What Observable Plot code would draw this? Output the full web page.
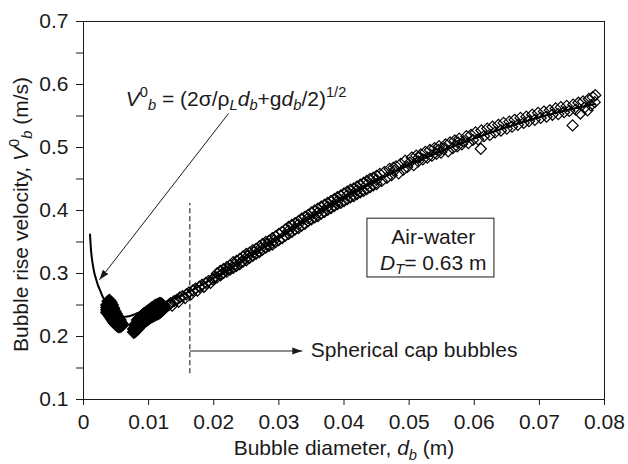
<!DOCTYPE html>
<html><head><meta charset="utf-8">
<script src="https://cdn.jsdelivr.net/npm/d3@7"></script>
<script src="https://cdn.jsdelivr.net/npm/@observablehq/plot@0.6"></script>
<style>html,body{margin:0;padding:0;background:#fff}</style>
</head><body><div id="chart"></div>
<script>
// ---- axis ticks ----
const xTicks = [0, 0.01, 0.02, 0.03, 0.04, 0.05, 0.06, 0.07, 0.08];
const xTickLabels = ["0", "0.01", "0.02", "0.03", "0.04", "0.05", "0.06", "0.07", "0.08"];
const yTicks = [0.1, 0.2, 0.3, 0.4, 0.5, 0.6, 0.7];
const yTickLabels = ["0.1", "0.2", "0.3", "0.4", "0.5", "0.6", "0.7"];
const yMinorTicks = [0.15, 0.25, 0.35, 0.45, 0.55, 0.65];

// ---- measured data: [bubble diameter d_b (m), rise velocity (m/s)] ----
const blobSmall = [
  [0.0036,0.238],[0.0036,0.242],[0.0036,0.246],[0.0036,0.250],
  [0.0038,0.236],[0.0038,0.241],[0.0038,0.246],[0.0038,0.251],[0.0038,0.256],
  [0.0040,0.233],[0.0040,0.238],[0.0040,0.243],[0.0040,0.248],[0.0040,0.253],[0.0040,0.257],
  [0.0042,0.230],[0.0042,0.235],[0.0042,0.240],[0.0042,0.245],[0.0042,0.250],[0.0042,0.254],
  [0.0044,0.227],[0.0044,0.232],[0.0044,0.237],[0.0044,0.242],[0.0044,0.246],[0.0044,0.250],
  [0.0046,0.224],[0.0046,0.229],[0.0046,0.234],[0.0046,0.239],[0.0046,0.245],
  [0.0048,0.221],[0.0048,0.226],[0.0048,0.231],[0.0048,0.236],[0.0048,0.240],
  [0.0050,0.219],[0.0050,0.224],[0.0050,0.229],[0.0050,0.233],[0.0050,0.236],
  [0.0052,0.217],[0.0052,0.221],[0.0052,0.225],[0.0052,0.229],[0.0052,0.232],
  [0.0054,0.216],[0.0054,0.220],[0.0054,0.224],[0.0054,0.228],
  [0.0056,0.216],[0.0056,0.220],[0.0056,0.224],[0.0056,0.226],
  [0.0058,0.217],[0.0058,0.221],
  [0.0060,0.219]
];
const blobMid = [
  [0.0077,0.207],[0.0077,0.212],
  [0.0079,0.208],[0.0079,0.213],[0.0079,0.218],
  [0.0081,0.210],[0.0081,0.215],[0.0081,0.220],
  [0.0083,0.212],[0.0083,0.217],[0.0083,0.222],[0.0083,0.226],
  [0.0085,0.215],[0.0085,0.219],[0.0085,0.224],[0.0085,0.228],
  [0.0087,0.217],[0.0087,0.221],[0.0087,0.226],[0.0087,0.230],
  [0.0089,0.219],[0.0089,0.223],[0.0089,0.228],[0.0089,0.232],
  [0.0091,0.221],[0.0091,0.225],[0.0091,0.230],[0.0091,0.234],
  [0.0093,0.223],[0.0093,0.227],[0.0093,0.232],[0.0093,0.236],
  [0.0095,0.225],[0.0095,0.229],[0.0095,0.233],[0.0095,0.237],
  [0.0097,0.226],[0.0097,0.230],[0.0097,0.235],[0.0097,0.239],
  [0.0099,0.228],[0.0099,0.232],[0.0099,0.236],[0.0099,0.240],
  [0.0101,0.229],[0.0101,0.233],[0.0101,0.238],[0.0101,0.242],
  [0.0103,0.231],[0.0103,0.235],[0.0103,0.239],[0.0103,0.243],
  [0.0105,0.232],[0.0105,0.236],[0.0105,0.241],[0.0105,0.245],
  [0.0107,0.233],[0.0107,0.237],[0.0107,0.242],[0.0107,0.246],
  [0.0109,0.234],[0.0109,0.239],[0.0109,0.244],[0.0109,0.248],
  [0.0111,0.235],[0.0111,0.240],[0.0111,0.245],[0.0111,0.249],
  [0.0113,0.236],[0.0113,0.241],[0.0113,0.246],[0.0113,0.250],
  [0.0115,0.237],[0.0115,0.242],[0.0115,0.247],[0.0115,0.251],
  [0.0117,0.238],[0.0117,0.243],[0.0117,0.248],[0.0117,0.252],
  [0.0119,0.240],[0.0119,0.244],[0.0119,0.249],[0.0119,0.252],
  [0.0121,0.242],[0.0121,0.246],[0.0121,0.250],
  [0.0123,0.244],[0.0123,0.248]
];
const chain = [
  [0.0127,0.247],[0.0131,0.250],[0.0134,0.253],[0.0136,0.249],[0.0139,0.256],[0.0143,0.258],
  [0.0146,0.255],[0.0148,0.262],[0.0152,0.264],[0.0156,0.261],[0.0158,0.267],[0.0162,0.270],
  [0.0165,0.267],[0.0168,0.273],[0.0172,0.276],[0.0175,0.273],[0.0178,0.279],[0.0182,0.282],
  [0.0185,0.279],[0.0188,0.285],[0.0192,0.288],[0.0195,0.285],[0.0198,0.291],[0.0201,0.293]
];
const segA = [
  [0.0205,0.300],[0.0205,0.294],[0.0210,0.297],[0.0210,0.304],[0.0215,0.307],[0.0215,0.301],
  [0.0220,0.303],[0.0220,0.310],[0.0225,0.313],[0.0225,0.306],[0.0230,0.309],[0.0230,0.318],
  [0.0235,0.320],[0.0235,0.312],[0.0240,0.315],[0.0240,0.323],[0.0245,0.327],[0.0245,0.319],
  [0.0250,0.321],[0.0250,0.331],[0.0255,0.333],[0.0255,0.325],[0.0260,0.328],[0.0260,0.337],
  [0.0265,0.339],[0.0265,0.331],[0.0270,0.334],[0.0270,0.343],[0.0275,0.347],[0.0275,0.338],
  [0.0280,0.341],[0.0280,0.350],[0.0285,0.352],[0.0285,0.344],[0.0290,0.346],[0.0290,0.356],
  [0.0295,0.359],[0.0295,0.350],[0.0300,0.353],[0.0300,0.363],
  [0.0212,0.299],[0.0232,0.314],[0.0252,0.327],[0.0272,0.340],[0.0292,0.352],
  [0.0262,0.334],[0.0242,0.318],[0.0222,0.307],[0.0282,0.346]
];
const segB = [
  [0.0305,0.366],[0.0305,0.356],[0.0310,0.360],[0.0310,0.370],[0.0315,0.374],[0.0315,0.363],[0.0315,0.368],
  [0.0320,0.366],[0.0320,0.377],[0.0325,0.380],[0.0325,0.370],[0.0330,0.372],[0.0330,0.383],[0.0330,0.378],
  [0.0335,0.387],[0.0335,0.376],[0.0340,0.379],[0.0340,0.390],[0.0345,0.393],[0.0345,0.383],[0.0345,0.388],
  [0.0350,0.386],[0.0350,0.397],[0.0355,0.400],[0.0355,0.389],[0.0360,0.391],[0.0360,0.403],[0.0360,0.397],
  [0.0365,0.406],[0.0365,0.395],[0.0370,0.398],[0.0370,0.409],[0.0375,0.412],[0.0375,0.401],[0.0375,0.406],
  [0.0380,0.404],[0.0380,0.415],[0.0385,0.418],[0.0385,0.407],[0.0390,0.410],[0.0390,0.421],[0.0390,0.415],
  [0.0395,0.424],[0.0395,0.412],[0.0400,0.415],[0.0400,0.427],[0.0405,0.430],[0.0405,0.418],[0.0405,0.424],
  [0.0410,0.421],[0.0410,0.433],[0.0415,0.435],[0.0415,0.423],[0.0420,0.426],[0.0420,0.438],[0.0420,0.432],
  [0.0425,0.441],[0.0425,0.429],[0.0430,0.431],[0.0430,0.444],[0.0435,0.447],[0.0435,0.434],[0.0435,0.441],
  [0.0440,0.437],[0.0440,0.450],[0.0445,0.452],[0.0445,0.440],[0.0450,0.442],[0.0450,0.455],[0.0450,0.449]
];
const segC = [
  [0.0455,0.458],[0.0458,0.447],[0.0462,0.461],[0.0466,0.452],[0.0470,0.466],[0.0473,0.456],[0.0476,0.468],
  [0.0477,0.463],[0.0480,0.470],[0.0484,0.459],[0.0487,0.474],[0.0491,0.465],[0.0494,0.479],[0.0497,0.469],
  [0.0501,0.476],[0.0504,0.484],[0.0507,0.472],[0.0511,0.487],[0.0514,0.478],[0.0515,0.484],[0.0518,0.489],
  [0.0521,0.481],[0.0525,0.493],[0.0528,0.484],[0.0532,0.496],[0.0535,0.487],[0.0539,0.499],[0.0542,0.490],
  [0.0545,0.496],[0.0546,0.502],[0.0549,0.492],[0.0553,0.498],[0.0556,0.505],[0.0560,0.494],[0.0563,0.508],
  [0.0567,0.499],[0.0570,0.511],[0.0574,0.502],[0.0575,0.508],[0.0577,0.514],[0.0581,0.505],[0.0584,0.510],
  [0.0588,0.518],[0.0591,0.507],[0.0595,0.520],[0.0598,0.512]
];
const segD = [
  [0.0602,0.524],[0.0606,0.513],[0.0610,0.498],[0.0611,0.527],[0.0615,0.518],[0.0620,0.530],[0.0624,0.520],
  [0.0628,0.533],[0.0632,0.524],[0.0637,0.536],[0.0641,0.527],[0.0645,0.539],[0.0650,0.530],[0.0654,0.541],
  [0.0658,0.533],[0.0662,0.544],[0.0667,0.536],[0.0671,0.547],[0.0676,0.539],[0.0680,0.549],[0.0684,0.542],
  [0.0689,0.552],[0.0693,0.544],[0.0698,0.555],[0.0702,0.547],[0.0707,0.557],[0.0711,0.549],[0.0716,0.559],
  [0.0720,0.552],[0.0725,0.562],[0.0729,0.553],[0.0733,0.564],[0.0738,0.556],[0.0742,0.566],[0.0746,0.558],
  [0.0751,0.535],[0.0752,0.568],[0.0756,0.560],[0.0760,0.571],[0.0763,0.554],[0.0767,0.573],[0.0769,0.563],
  [0.0774,0.559],[0.0776,0.577],[0.0779,0.567],[0.0782,0.580],[0.0785,0.572],[0.0786,0.583]
];

// ---- correlation curve ----
const curveD = [0.0010,0.0011,0.0012,0.0014,0.0016,0.0019,0.0022,0.0026,0.0030,0.0035,0.0040,0.0045,0.0050,0.0060,0.0070,0.0080,0.0090,0.0100,0.0120,0.0140,0.0160,0.0200,0.0250,0.0300,0.0350,0.0400,0.0450,0.0500,0.0550,0.0600,0.0650,0.0700,0.0750,0.0785];
const curveV = [0.362,0.345,0.332,0.316,0.304,0.292,0.282,0.272,0.262,0.252,0.244,0.238,0.234,0.231,0.232,0.236,0.240,0.245,0.252,0.261,0.270,0.293,0.325,0.357,0.389,0.419,0.447,0.472,0.494,0.514,0.532,0.548,0.561,0.569];

// ---- annotations (data coordinates) ----
const dashLine = {x: 0.01633, y1: 0.141, y2: 0.411};
const arrows = [
  {x1: 0.02227, y1: 0.554, x2: 0.00245, y2: 0.290},
  {x1: 0.01633, y1: 0.177, x2: 0.0336, y2: 0.177}
];
const box = {x1: 0.0436, x2: 0.0631, y1: 0.2937, y2: 0.387};

const formulaParts = [{t:"V",i:1},{t:"0",sup:1},{t:"b",sub:1,i:1},{t:" = (2σ/ρ"},{t:"L",sub:1,i:1},{t:"d",i:1},{t:"b",sub:1,i:1},{t:"+g"},{t:"d",i:1},{t:"b",sub:1,i:1},{t:"/2)"},{t:"1/2",sup:1}];
const dtParts = [{t:"D",i:1},{t:"T",sub:1,i:1},{t:"= 0.63 m"}];
const xLabelParts = [{t:"Bubble diameter, "},{t:"d",i:1},{t:"b",sub:1,i:1},{t:" (m)"}];
const yLabelParts = [{t:"Bubble rise velocity, "},{t:"V",i:1},{t:"0",sup:1},{t:"b",sub:1,i:1},{t:" (m/s)"}];
const plain = parts => parts.map(p => p.t).join("");

const ink = "#1a1a1a";
const FS = 21;

const toRows = arr => arr.map(([d, v]) => ({d, v}));
const dense = toRows([...blobSmall, ...blobMid]);
const points = toRows([...chain, ...segA, ...segB, ...segC, ...segD]);
const curve = curveD.map((d, i) => ({d, v: curveV[i]}));

const plot = Plot.plot({
  width: 628, height: 464,
  marginLeft: 83, marginRight: 24, marginTop: 21, marginBottom: 65,
  x: {domain: [0, 0.08]},
  y: {domain: [0.1, 0.7]},
  style: {fontFamily: "'Liberation Sans', Arial, Helvetica, sans-serif", fontSize: FS + "px", color: ink, background: "#fff"},
  marks: [
    Plot.axisX({ticks: xTicks, tickFormat: d => xTickLabels[xTicks.indexOf(d)], tickSize: 6, tickPadding: 9, label: null}),
    Plot.axisY({ticks: yTicks, tickFormat: d => yTickLabels[yTicks.indexOf(d)], tickSize: 7, tickPadding: 8, label: null}),
    Plot.axisY({ticks: yMinorTicks, tickFormat: () => "", tickSize: 7, tickPadding: 8, label: null}),
    Plot.ruleX([dashLine], {x: "x", y1: "y1", y2: "y2", stroke: ink, strokeWidth: 1.1, strokeDasharray: "5,3"}),
    Plot.dot(dense, {x: "d", y: "v", symbol: "diamond2", r: 5.2, stroke: "#000", strokeWidth: 1.8, fill: "none"}),
    Plot.dot(points, {x: "d", y: "v", symbol: "diamond2", r: 5, stroke: "#000", strokeWidth: 1.2, fill: "none"}),
    Plot.line(curve, {x: "d", y: "v", curve: "monotone-x", stroke: "#000", strokeWidth: 2}),
    Plot.link(arrows, {x1: "x1", y1: "y1", x2: "x2", y2: "y2", stroke: ink, strokeWidth: 1, markerEnd: "arrow"}),
    Plot.rect([box], {x1: "x1", x2: "x2", y1: "y1", y2: "y2", fill: "#fff", stroke: ink, strokeWidth: 1}),
    Plot.text([plain(formulaParts)], {x: 0.0065, y: 0.577, textAnchor: "start"}),
    Plot.text(["Spherical cap bubbles"], {x: 0.0349, y: 0.178, textAnchor: "start"}),
    Plot.text(["Air-water"], {x: 0.0537, y: 0.358, textAnchor: "middle"}),
    Plot.text([plain(dtParts)], {x: 0.0537, y: 0.3165, textAnchor: "middle"}),
    Plot.text([plain(xLabelParts)], {frameAnchor: "bottom", dy: 49, lineAnchor: "middle", textAnchor: "middle"}),
    Plot.text([plain(yLabelParts)], {frameAnchor: "left", dx: -62.4, dy: 4, rotate: -90, lineAnchor: "middle", textAnchor: "middle"}),
    Plot.frame({stroke: ink, strokeWidth: 1})
  ]
});

const NS = "http://www.w3.org/2000/svg";
function rich(el, parts, fs) {
  while (el.firstChild) el.removeChild(el.firstChild);
  let shift = 0;
  for (const p of parts) {
    const ts = document.createElementNS(NS, "tspan");
    const target = p.sub ? 0.22 * fs : p.sup ? -0.42 * fs : 0;
    if (target !== shift) ts.setAttribute("dy", target - shift);
    shift = target;
    if (p.sub || p.sup) ts.setAttribute("font-size", 0.7 * fs);
    if (p.i) ts.setAttribute("font-style", "italic");
    ts.textContent = p.t;
    el.appendChild(ts);
  }
}
const richMap = [formulaParts, dtParts, xLabelParts, yLabelParts];
plot.querySelectorAll("text").forEach(el => {
  for (const parts of richMap) {
    if (el.textContent === plain(parts)) { rich(el, parts, FS); break; }
  }
});
plot.querySelectorAll("marker").forEach(m => {
  m.setAttribute("viewBox", "-10 -5 10 10");
  m.setAttribute("markerUnits", "userSpaceOnUse");
  m.setAttribute("markerWidth", 10);
  m.setAttribute("markerHeight", 10);
  m.setAttribute("refX", 0);
  m.setAttribute("refY", 0);
  while (m.firstChild) m.removeChild(m.firstChild);
  const p = document.createElementNS(NS, "path");
  p.setAttribute("d", "M-10,-3.5L0,0L-10,3.5Z");
  p.setAttribute("fill", ink);
  p.setAttribute("stroke", "none");
  m.appendChild(p);
});
document.getElementById("chart").appendChild(plot);
</script>
</body></html>
